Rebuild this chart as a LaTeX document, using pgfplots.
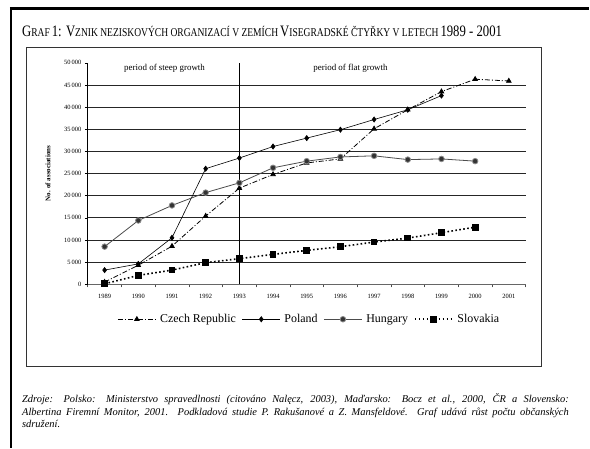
\documentclass[border=0pt]{standalone}
\usepackage{fontspec}
\setmainfont{Liberation Serif}
\usepackage{pgfplots}
\pgfplotsset{compat=1.18}
\newcommand{\bigc}[1]{{\fontsize{16}{16}\selectfont #1}}
\newcommand{\smc}[1]{{\fontsize{12}{12}\selectfont #1}}
\begin{document}
\begin{tikzpicture}
\begin{scope}[x=1bp,y=1bp]
\fill[white] (0,0) rectangle (590,449);
\draw[line width=3bp] (10,440) -- (590,440);
\draw[line width=2bp] (11,441.5) -- (11,0);
\draw[line width=0.7bp, black!80] (26,82) rectangle (543,402);
\node[anchor=base west, inner sep=0] at (22,412) {\scalebox{0.8}[1]{\bigc{G}\smc{RAF} \bigc{1: V}\smc{ZNIK NEZISKOVÝCH ORGANIZACÍ V ZEMÍCH} \bigc{V}\smc{ISEGRADSKÉ ČTYŘKY V LETECH} \bigc{1989 - 2001}}};
\node[anchor=north west, inner sep=0, text width=548bp, align=justify, font=\itshape\fontsize{10.5}{13}\selectfont] at (22,55) {Zdroje: Polsko: Ministerstvo spravedlnosti (citováno Nalęcz, 2003), Maďarsko: Bocz et al., 2000, ČR a Slovensko:\linebreak Albertina Firemní Monitor, 2001. Podkladová studie P. Rakušanové a Z. Mansfeldové. Graf udává růst počtu občanských\linebreak sdružení.};
\end{scope}
\begin{axis}[
  at={(88bp,164bp)}, anchor=south west,
  scale only axis, width=439bp, height=222bp,
  xmin=-0.5, xmax=12.5, ymin=0, ymax=50000,
  axis x line*=bottom, axis y line*=left,
  axis line style={-},
  x axis line style={black!60, line width=0.8bp},
  y axis line style={black, line width=0.7bp},
  xtick={0,...,12},
  xticklabels={1989,1990,1991,1992,1993,1994,1995,1996,1997,1998,1999,2000,2001},
  major x tick style={draw=none},
  minor xtick={-0.5,0.5,...,12.5},
  minor x tick style={black!70, line width=0.6bp},
  minor tick length=3bp,
  major tick length=3bp,
  tick align=outside,
  ytick={0,5000,...,50000},
  scaled y ticks=false,
  y tick style={black, line width=0.6bp},
  extra y ticks={5000,10000,...,45000},
  extra y tick labels={},
  extra y tick style={grid=major, tick style={draw=none}},
  major grid style={black!85, line width=0.7bp},
  /pgf/number format/.cd, 1000 sep={\,}, assume math mode=true, /pgfplots/.cd,
  tick label style={font=\fontsize{6.5}{7}\selectfont},
  xticklabel style={yshift=-3bp},
  ylabel={No. of associations},
  ylabel style={font=\bfseries\fontsize{7}{7}\selectfont, at={(axis description cs:-0.091,0.5)}, rotate=0, anchor=center},
  legend style={at={(axis description cs:0.506,-0.158)}, anchor=center, draw=none, fill=none, legend columns=4, font=\fontsize{12}{12}\selectfont, /tikz/every odd column/.append style={column sep=2bp}, /tikz/every even column/.append style={column sep=4bp}},
  legend image code/.code={\draw[mark repeat=2,mark phase=2,#1] plot coordinates {(0bp,0bp)(19bp,0bp)(38bp,0bp)};},
  clip=false,
]
\addplot[black, line width=0.8bp, dash pattern=on 5bp off 2bp on 1bp off 2bp, mark=triangle*, mark size=2.6bp, mark options={solid}] coordinates {
(0,500)(1,4300)(2,8600)(3,15400)(4,21700)(5,24800)(6,27400)(7,28300)(8,35100)(9,39400)(10,43500)(11,46300)(12,45900)};
\addlegendentry{Czech Republic}
\addplot[black, line width=0.6bp, mark=diamond*, mark size=2.6bp] coordinates {
(0,3200)(1,4600)(2,10500)(3,26100)(4,28500)(5,31100)(6,33000)(7,34900)(8,37200)(9,39400)(10,42600)};
\addlegendentry{Poland}
\addplot[black!70, line width=0.8bp, mark=*, mark size=2.8bp, mark options={fill=black!80, draw=black!45}] coordinates {
(0,8500)(1,14400)(2,17800)(3,20700)(4,22900)(5,26300)(6,27800)(7,28750)(8,29000)(9,28150)(10,28300)(11,27800)};
\addlegendentry{Hungary}
\addplot[black, line width=1.6bp, dash pattern=on 1.6bp off 2.4bp, mark=square*, mark size=2.6bp, mark options={solid}] coordinates {
(0,100)(1,2000)(2,3200)(3,4880)(4,5780)(5,6750)(6,7650)(7,8480)(8,9530)(9,10430)(10,11640)(11,12900)};
\addlegendentry{Slovakia}
\draw[black, line width=0.7bp] (axis cs:4,0) -- (axis cs:4,50000);
\node[font=\fontsize{9}{9}\selectfont] at (axis cs:1.78,48800) {period of steep growth};
\node[font=\fontsize{9}{9}\selectfont] at (axis cs:7.3,48800) {period of flat growth};
\end{axis}
\end{tikzpicture}
\end{document}
